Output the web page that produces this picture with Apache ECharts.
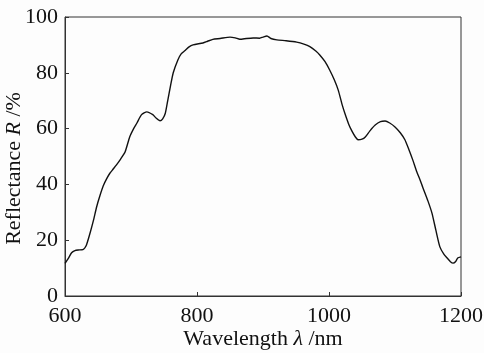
<!DOCTYPE html>
<html>
<head>
<meta charset="utf-8">
<script src="https://cdn.jsdelivr.net/npm/echarts@6/dist/echarts.min.js"></script>
<style>
  html, body { margin: 0; padding: 0; background: #fdfdfd; }
  #chart { width: 484px; height: 353px; }
</style>
</head>
<body>
<div id="chart"></div>
<script>
// wavelength (nm) and reflectance (%)
const wavelength = [600, 605, 610, 615, 620, 627, 632, 638, 643, 648, 653, 658, 663, 668, 673, 678, 684, 691, 698, 704,
  709, 716, 724, 733, 738, 744, 748, 752, 756, 760, 764, 771, 776, 782, 788, 794, 809, 816, 824, 835,
  850, 858, 865, 875, 885, 895, 900, 906, 912, 921, 935, 951, 962, 971, 980, 986, 994, 1001, 1008, 1014,
  1020, 1024, 1030, 1035, 1040, 1044, 1050, 1055, 1062, 1070, 1078, 1085, 1092, 1100, 1108, 1115, 1121, 1127, 1133, 1138,
  1142, 1150, 1156, 1162, 1168, 1174, 1179, 1184, 1188, 1192, 1195, 1200];
const reflectance = [11.7, 13.5, 15.5, 16.3, 16.5, 16.6, 18, 22.6, 27, 32, 36, 39.5, 42, 44, 45.5, 47, 49, 51.6, 57, 60,
  62, 65, 66, 65, 63.8, 62.8, 63.5, 65.5, 70.5, 75.5, 80, 84.6, 86.8, 88, 89.3, 90, 90.7, 91.3, 92, 92.3,
  92.8, 92.5, 92, 92.3, 92.5, 92.4, 92.8, 93.2, 92.3, 91.8, 91.5, 91, 90.3, 89.4, 87.8, 86.4, 84, 81, 77.5, 73.8,
  68.5, 65.5, 61.5, 59, 57, 56, 56.2, 57, 59.2, 61.3, 62.5, 62.7, 62, 60.6, 58.5, 56, 52.5, 48.7, 44.5, 41.6,
  39, 34, 29.7, 23.5, 17.6, 15, 13.6, 12.3, 11.8, 12.4, 13.6, 14];

const xTicks = [600, 800, 1000, 1200];
const yTicks = [0, 20, 40, 60, 80, 100];

const font = 'Liberation Serif';
const fs = 22;
const chart = echarts.init(document.getElementById('chart'));

chart.setOption({
  backgroundColor: '#fdfdfd',
  animation: false,
  grid: {
    left: 65, right: 23, top: 17, bottom: 57,
    outerBoundsMode: 'none',
    containLabel: false,
    show: true, borderColor: '#333', borderWidth: 1
  },
  xAxis: {
    type: 'value',
    min: xTicks[0], max: xTicks[xTicks.length - 1], interval: 200,
    name: 'Wavelength {i|λ} /nm',
    nameLocation: 'middle',
    nameGap: 32,
    nameMoveOverlap: false,
    nameTextStyle: {
      fontFamily: font, fontSize: fs, color: '#111',
      rich: { i: { fontFamily: font, fontSize: fs, fontStyle: 'italic', color: '#111' } }
    },
    axisLine: { lineStyle: { color: '#333', width: 1 } },
    axisTick: { inside: true, length: 4, lineStyle: { color: '#333' } },
    axisLabel: { fontFamily: font, fontSize: fs, color: '#111', margin: 9, formatter: v => String(v) },
    splitLine: { show: false }
  },
  yAxis: {
    type: 'value',
    min: yTicks[0], max: yTicks[yTicks.length - 1], interval: 20,
    name: 'Reflectance {i|R} /%',
    nameLocation: 'middle',
    nameGap: 40,
    nameMoveOverlap: false,
    nameTextStyle: {
      fontFamily: font, fontSize: fs, color: '#111',
      padding: [0, 24, 0, 0],
      rich: { i: { fontFamily: font, fontSize: fs, fontStyle: 'italic', color: '#111' } }
    },
    axisLine: { lineStyle: { color: '#333', width: 1 } },
    axisTick: { inside: true, length: 4, lineStyle: { color: '#333' } },
    axisLabel: { fontFamily: font, fontSize: fs, color: '#111', margin: 7, formatter: v => String(v) },
    splitLine: { show: false }
  },
  series: [{
    type: 'line',
    data: wavelength.map((w, i) => [w, reflectance[i]]),
    showSymbol: false,
    smooth: 0.2,
    lineStyle: { color: '#111', width: 1.4 }
  }]
});
</script>
</body>
</html>
